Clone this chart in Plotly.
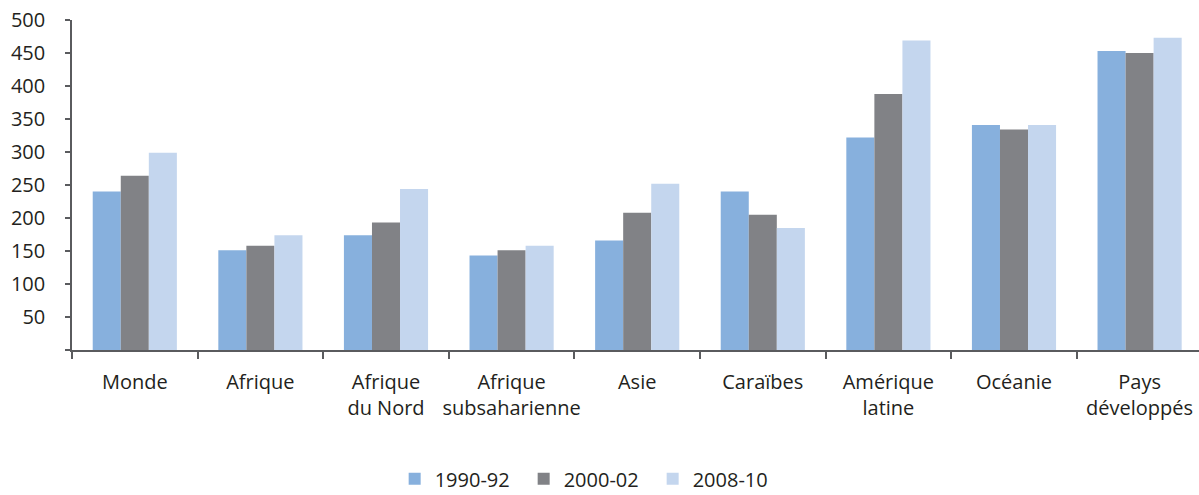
import plotly.graph_objects as go

# Categories and values per period
categories = ["Monde", "Afrique", "Afrique<br>du Nord", "Afrique<br>subsaharienne",
              "Asie", "Caraïbes", "Amérique<br>latine", "Océanie", "Pays<br>développés"]
v_1990 = [240, 151, 174, 143, 166, 240, 322, 341, 453]
v_2000 = [264, 158, 193, 151, 208, 205, 388, 334, 450]
v_2008 = [299, 174, 244, 158, 252, 185, 469, 341, 473]
series_names = ["1990-92", "2000-02", "2008-10"]
y_ticks = [0, 50, 100, 150, 200, 250, 300, 350, 400, 450, 500]
y_tick_text = ["" if t == 0 else str(t) for t in y_ticks]

colors = ["#87b0dd", "#818286", "#c4d6ee"]
FONT = "Open Sans"
TEXT = "#231f20"
AXIS = "#5a5b5e"

fig = go.Figure()
for name, vals, col in zip(series_names, [v_1990, v_2000, v_2008], colors):
    fig.add_trace(go.Bar(
        x=categories, y=vals, name=name,
        marker=dict(color=col, line=dict(width=0)),
    ))

fig.update_layout(
    width=1199, height=495,
    margin=dict(l=72, r=0, t=20, b=145, autoexpand=False),
    paper_bgcolor="white", plot_bgcolor="white",
    barmode="group", bargap=0.33, bargroupgap=0,
    font=dict(family=FONT, size=20, color=TEXT),
    showlegend=True,
    legend=dict(
        orientation="h", x=0.458, xanchor="center", y=-0.39, yanchor="middle",
        font=dict(family=FONT, size=20, color=TEXT),
        entrywidth=84, entrywidthmode="pixels",
        itemsizing="constant",
    ),
)
fig.update_xaxes(
    type="category",
    range=[-0.5, 8.473],
    showline=True, linecolor=AXIS, linewidth=1.5,
    ticks="outside", tickson="boundaries", ticklen=7, tickcolor=AXIS, tickwidth=1.5,
    tickangle=0, automargin=False,
    ticklabelstandoff=13,
    showgrid=False, zeroline=False,
    tickfont=dict(family=FONT, size=20, color=TEXT),
)
fig.update_yaxes(
    range=[0, 500],
    tickvals=y_ticks, ticktext=y_tick_text,
    showline=True, linecolor=AXIS, linewidth=1.5,
    ticks="outside", ticklen=5, tickcolor=AXIS, tickwidth=1.5,
    ticklabelstandoff=16, automargin=False,
    showgrid=False, zeroline=False,
    tickfont=dict(family=FONT, size=20, color=TEXT),
)

fig.write_html("out.html")
